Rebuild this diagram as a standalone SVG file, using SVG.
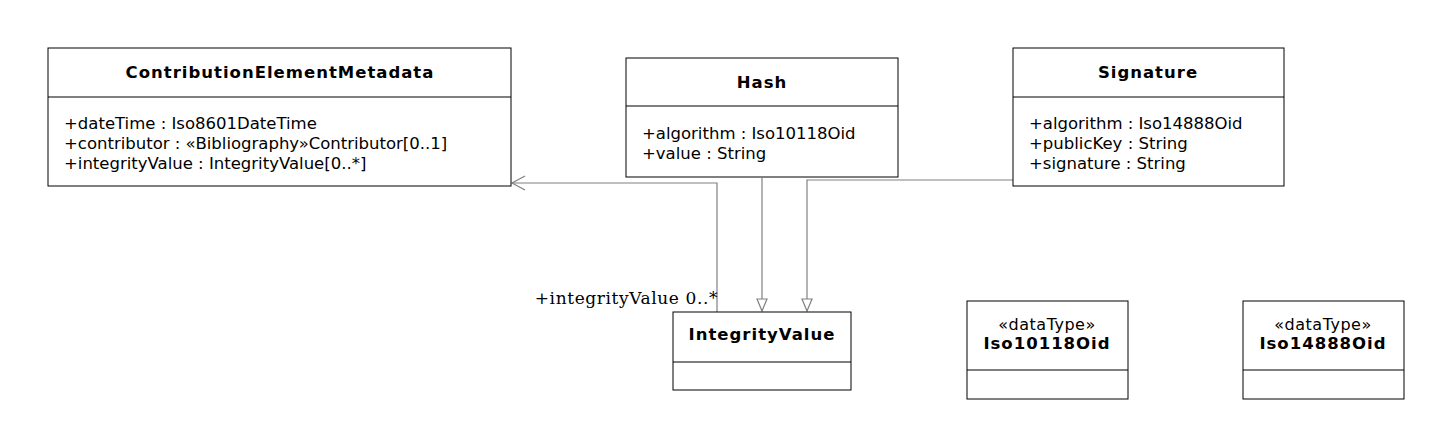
<svg xmlns="http://www.w3.org/2000/svg" width="1452" height="448" viewBox="0 0 1452 448">
<style>
rect{fill:#fff;stroke:#000;stroke-width:1}
.d{stroke:#000;stroke-width:1}
text{font-family:"DejaVu Sans",sans-serif;font-size:16.5px;fill:#000}
.b{font-weight:bold;text-anchor:middle;font-size:16.5px;letter-spacing:1px}
.c{text-anchor:middle;font-size:16px;letter-spacing:0.5px}
.e{stroke:#808080;stroke-width:1.2;fill:none}
.r{font-family:"DejaVu Serif","Liberation Serif",serif;font-size:17px;letter-spacing:0.6px;text-anchor:end}
</style>
<defs>
<marker id="tri" markerWidth="12" markerHeight="14" refX="6" refY="13" orient="0" markerUnits="userSpaceOnUse"><path d="M1,1 L11,1 L6,13 Z" fill="#fff" stroke="#808080" stroke-width="1.2"/></marker>
</defs>
<g id="connectors">
<path class="e" d="M717,312 L717,183 L512,183"/>
<path class="e" d="M525,176 L512,183 L525,190"/>
<path class="e" d="M762,178 L762,311" marker-end="url(#tri)"/>
<path class="e" d="M1013,180 L807,180 L807,311" marker-end="url(#tri)"/>
<text class="r" x="718" y="304">+integrityValue 0..*</text>
</g>
<g id="ContributionElementMetadata">
<rect x="48" y="48" width="463" height="138"/><line class="d" x1="48" y1="97" x2="511" y2="97"/>
<text class="b" x="280" y="78">ContributionElementMetadata</text>
<text x="64" y="129">+dateTime : Iso8601DateTime</text>
<text x="64" y="149">+contributor : «Bibliography»Contributor[0..1]</text>
<text x="64" y="169">+integrityValue : IntegrityValue[0..*]</text>
</g>
<g id="Hash">
<rect x="626" y="58" width="272" height="119"/><line class="d" x1="626" y1="106" x2="898" y2="106"/>
<text class="b" x="762" y="88">Hash</text>
<text x="642" y="139">+algorithm : Iso10118Oid</text>
<text x="642" y="159">+value : String</text>
</g>
<g id="Signature">
<rect x="1013" y="48" width="271" height="138"/><line class="d" x1="1013" y1="97" x2="1284" y2="97"/>
<text class="b" x="1148" y="78">Signature</text>
<text x="1029" y="129">+algorithm : Iso14888Oid</text>
<text x="1029" y="149">+publicKey : String</text>
<text x="1029" y="169">+signature : String</text>
</g>
<g id="IntegrityValue">
<rect x="673" y="312" width="178" height="78"/><line class="d" x1="673" y1="362" x2="851" y2="362"/>
<text class="b" x="762" y="340">IntegrityValue</text>
</g>
<g id="Iso10118Oid">
<rect x="967" y="301" width="161" height="98"/><line class="d" x1="967" y1="370" x2="1128" y2="370"/>
<text class="c" x="1047" y="330">«dataType»</text>
<text class="b" x="1047" y="349">Iso10118Oid</text>
</g>
<g id="Iso14888Oid">
<rect x="1243" y="301" width="161" height="98"/><line class="d" x1="1243" y1="370" x2="1404" y2="370"/>
<text class="c" x="1323" y="330">«dataType»</text>
<text class="b" x="1323" y="349">Iso14888Oid</text>
</g>
</svg>
